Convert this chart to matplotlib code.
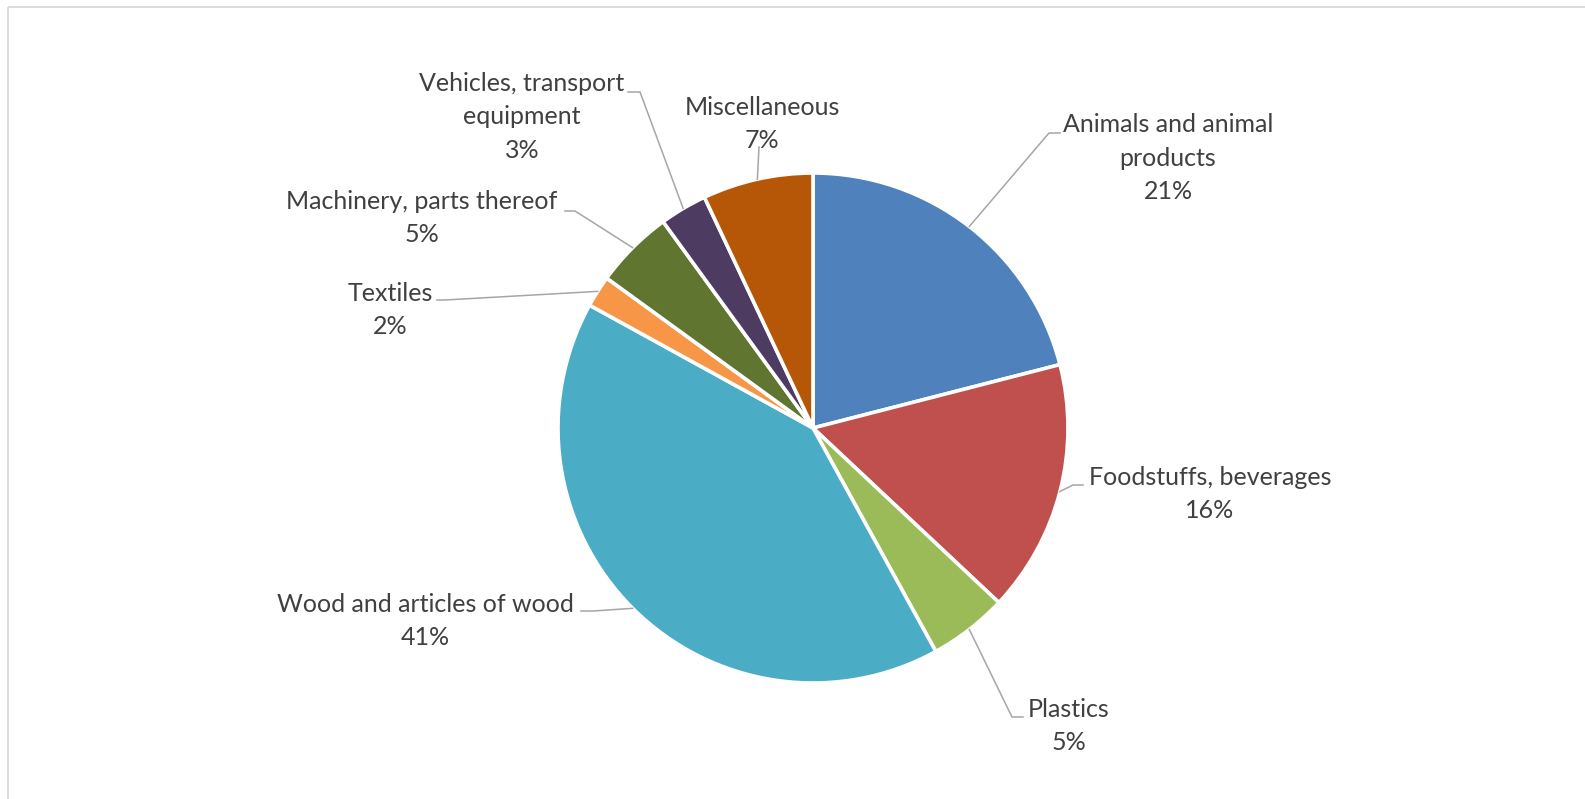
import matplotlib
matplotlib.use("Agg")
import matplotlib.pyplot as plt
import numpy as np

# Share of exports by product group (%)
categories = [
    "Animals and animal\nproducts",
    "Foodstuffs, beverages",
    "Plastics",
    "Wood and articles of wood",
    "Textiles",
    "Machinery, parts thereof",
    "Vehicles, transport\nequipment",
    "Miscellaneous",
]
shares = [21, 16, 5, 41, 2, 5, 3, 7]
colors = ["#4F81BD", "#C0504D", "#9BBB59", "#4BACC6", "#F79646",
          "#5F7530", "#4D3B62", "#B65708"]

W, H = 1585, 799
fig = plt.figure(figsize=(W / 100, H / 100), dpi=100)
ax = fig.add_axes([0, 0, 1, 1])

# pixel-space helper (y measured from the top)
def P(x, y):
    return (x, H - y)

cx, cy, R = 813, 428, 255
wedges, _ = ax.pie(shares, colors=colors, startangle=90, counterclock=False,
                   center=P(cx, cy), radius=R, frame=True,
                   wedgeprops=dict(edgecolor="white", linewidth=2.6))
ax.set_xlim(0, W)
ax.set_ylim(0, H)
ax.set_aspect("equal")
ax.axis("off")

# chart-area frame (top and left edges)
ax.plot([8, W], [H - 6.5, H - 6.5], color="#D9D9D9", lw=1.3, solid_capstyle="butt")
ax.plot([8, 8], [H - 6.5, 0], color="#D9D9D9", lw=1.3, solid_capstyle="butt")

# label layout: text block center, leader elbow, leader end (pixels)
layout = [
    ((1168, 158), (1049, 133), (1060, 133)),
    ((1210, 494), (1073, 485), (1083, 485)),
    ((1069, 726), (1012, 717), (1023, 717)),
    ((425, 621), (593, 611), (581, 611)),
    ((390, 310), (445, 300), (437, 300)),
    ((422, 218), (575, 211), (565, 211)),
    ((522, 117), (640, 92), (628, 92)),
    ((762, 124), (759, 147), (759, 147)),
]

font = ["Lato", "DejaVu Sans"]
text_color = "#404040"
line_color = "#A6A6A6"

for w, cat, val, (tpos, elbow, end) in zip(wedges, categories, shares, layout):
    mid = np.deg2rad((w.theta1 + w.theta2) / 2)
    ax_x = w.center[0] + R * np.cos(mid)
    ax_y = w.center[1] + R * np.sin(mid)
    ex, ey = P(*elbow)
    nx, ny = P(*end)
    ax.plot([ax_x, ex, nx], [ax_y, ey, ny], color=line_color, lw=1.1,
            solid_joinstyle="miter")
    ax.text(*P(*tpos), f"{cat}\n{val}%", ha="center", va="center",
            multialignment="center", fontsize=18, family=font,
            color=text_color, linespacing=1.55)

fig.savefig("out.png", dpi=100, facecolor="white")
